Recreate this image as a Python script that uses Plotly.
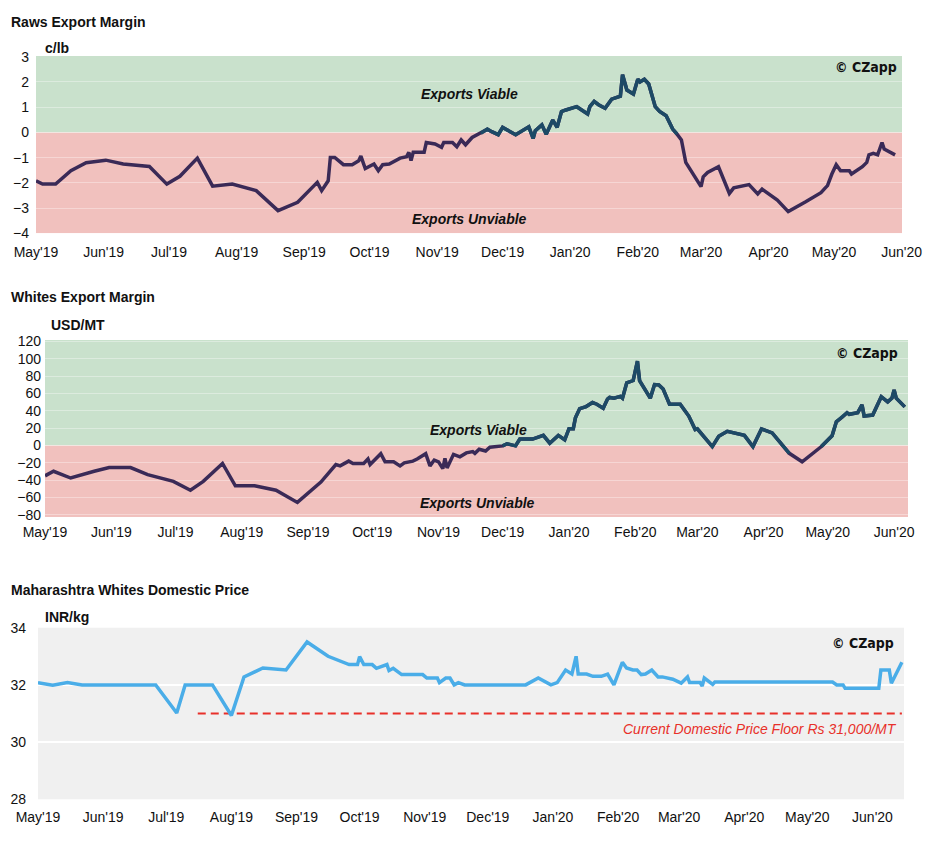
import plotly.graph_objects as go

# ---------------- data ----------------
raws_dates = ["2019-05-01","2019-05-04","2019-05-10","2019-05-17","2019-05-24","2019-06-02","2019-06-10","2019-06-22",
"2019-06-30","2019-07-06","2019-07-14","2019-07-21","2019-07-30","2019-08-10","2019-08-20","2019-08-29","2019-09-07",
"2019-09-09","2019-09-12","2019-09-13","2019-09-15","2019-09-19","2019-09-23","2019-09-26","2019-09-27","2019-09-29",
"2019-10-03","2019-10-05","2019-10-07","2019-10-10","2019-10-15","2019-10-18","2019-10-19","2019-10-20","2019-10-21",
"2019-10-26","2019-10-27","2019-10-31","2019-11-03","2019-11-04","2019-11-08","2019-11-10","2019-11-12","2019-11-14",
"2019-11-17","2019-11-21","2019-11-24","2019-11-26","2019-11-29","2019-12-01","2019-12-07","2019-12-13","2019-12-15",
"2019-12-16","2019-12-19","2019-12-21","2019-12-24","2019-12-26","2019-12-28","2019-12-30","2020-01-04","2020-01-09",
"2020-01-10","2020-01-12","2020-01-14","2020-01-17","2020-01-20","2020-01-24","2020-01-25","2020-01-27","2020-01-30",
"2020-02-01","2020-02-02","2020-02-04","2020-02-06","2020-02-09","2020-02-11","2020-02-14","2020-02-17","2020-02-19",
"2020-02-21","2020-02-23","2020-02-28","2020-03-01","2020-03-02","2020-03-04","2020-03-09","2020-03-14","2020-03-16",
"2020-03-20","2020-03-23","2020-03-27","2020-03-29","2020-04-05","2020-04-10","2020-04-18","2020-04-25","2020-04-27",
"2020-04-28","2020-04-30","2020-05-02","2020-05-04","2020-05-08","2020-05-09","2020-05-14","2020-05-16","2020-05-17",
"2020-05-19","2020-05-21","2020-05-23","2020-05-24","2020-05-29"]
raws_values = [-1.92,-2.05,-2.05,-1.52,-1.20,-1.10,-1.25,-1.35,
-2.05,-1.74,-1.02,-2.13,-2.05,-2.31,-3.10,-2.77,-1.98,
-2.31,-1.92,-0.99,-0.99,-1.28,-1.28,-1.12,-0.94,-1.43,
-1.25,-1.52,-1.28,-1.25,-1.02,-0.96,-0.79,-1.12,-0.79,
-0.79,-0.40,-0.46,-0.59,-0.40,-0.40,-0.57,-0.30,-0.49,
-0.20,-0.03,0.13,0.03,-0.09,0.20,-0.09,0.22,-0.24,
0.07,0.30,-0.07,0.49,0.20,0.83,0.89,1.02,0.73,
1.02,1.23,1.10,0.96,1.32,1.44,2.29,1.68,1.52,
2.11,2.00,2.11,1.92,1.02,0.83,0.66,0.13,-0.07,
-0.30,-1.19,-1.85,-2.15,-1.76,-1.59,-1.36,-2.42,-2.20,
-2.11,-2.07,-2.44,-2.25,-2.68,-3.14,-2.75,-2.39,-2.20,
-2.11,-1.65,-1.28,-1.52,-1.52,-1.65,-1.36,-1.19,-0.89,
-0.83,-0.89,-0.40,-0.66,-0.89]

whites_dates = ["2019-05-01","2019-05-05","2019-05-13","2019-05-17","2019-05-24","2019-05-31","2019-06-10","2019-06-18",
"2019-06-30","2019-07-08","2019-07-14","2019-07-23","2019-07-29","2019-08-07","2019-08-17","2019-08-27","2019-09-07",
"2019-09-14","2019-09-16","2019-09-20","2019-09-22","2019-09-27","2019-09-29","2019-09-30","2019-10-05","2019-10-07",
"2019-10-11","2019-10-14","2019-10-16","2019-10-20","2019-10-22","2019-10-26","2019-10-28","2019-10-30","2019-11-01",
"2019-11-03","2019-11-04","2019-11-05","2019-11-08","2019-11-11","2019-11-14","2019-11-17","2019-11-18","2019-11-20",
"2019-11-23","2019-11-25","2019-12-01","2019-12-03","2019-12-07","2019-12-09","2019-12-15","2019-12-20","2019-12-23",
"2019-12-27","2019-12-30","2020-01-01","2020-01-03","2020-01-04","2020-01-06","2020-01-09","2020-01-12","2020-01-14",
"2020-01-17","2020-01-19","2020-01-20","2020-01-22","2020-01-25","2020-01-26","2020-01-28","2020-01-31","2020-02-02",
"2020-02-03","2020-02-08","2020-02-10","2020-02-12","2020-02-14","2020-02-17","2020-02-22","2020-02-26","2020-02-29",
"2020-03-01","2020-03-08","2020-03-11","2020-03-15","2020-03-23","2020-03-27","2020-03-31","2020-04-05","2020-04-13",
"2020-04-19","2020-04-28","2020-05-03","2020-05-05","2020-05-08","2020-05-10","2020-05-11","2020-05-15","2020-05-17",
"2020-05-18","2020-05-22","2020-05-26","2020-05-29","2020-05-31","2020-06-01","2020-06-02","2020-06-06"]
whites_values = [-35.0,-29.7,-37.5,-34.4,-29.7,-25.4,-25.4,-33.6,
-41.4,-51.6,-41.4,-20.7,-46.5,-46.5,-51.6,-65.7,-42.2,
-21.9,-23.5,-18.0,-20.7,-20.7,-15.6,-21.9,-9.4,-18.8,
-18.8,-23.5,-19.9,-18.0,-15.6,-9.4,-23.5,-16.8,-18.8,
-26.6,-14.9,-25.8,-10.2,-13.0,-8.5,-7.0,-9.0,-4.3,
-6.3,-2.0,-0.4,2.0,-0.4,7.4,7.4,11.7,2.7,
11.7,6.6,19.5,19.5,32.0,42.6,45.0,49.6,47.7,
43.0,53.6,55.5,54.7,56.7,54.7,72.3,75.0,97.3,
75.0,54.7,70.4,70.0,65.3,47.7,47.7,34.0,18.4,
19.2,-1.2,10.6,16.4,11.7,-1.2,19.2,14.5,-9.0,
-18.8,-1.2,11.3,27.4,33.2,37.9,36.0,37.9,46.9,
34.0,35.2,56.3,50.4,54.7,64.1,54.7,44.6]

dom_dates = ["2019-05-01","2019-05-08","2019-05-15","2019-05-22","2019-06-26","2019-07-06","2019-07-10","2019-07-23",
"2019-08-01","2019-08-07","2019-08-16","2019-08-27","2019-09-06","2019-09-16","2019-09-26","2019-09-30","2019-10-01",
"2019-10-03","2019-10-07","2019-10-09","2019-10-14","2019-10-15","2019-10-17","2019-10-21","2019-10-31","2019-11-02",
"2019-11-07","2019-11-08","2019-11-11","2019-11-13","2019-11-15","2019-11-17","2019-11-20","2019-12-19","2019-12-25",
"2019-12-31","2020-01-03","2020-01-07","2020-01-10","2020-01-12","2020-01-13","2020-01-17","2020-01-20","2020-01-24",
"2020-01-27","2020-01-30","2020-02-03","2020-02-05","2020-02-08","2020-02-10","2020-02-12","2020-02-14","2020-02-17",
"2020-02-20","2020-02-22","2020-02-27","2020-03-02","2020-03-05","2020-03-06","2020-03-11","2020-03-12","2020-03-13",
"2020-03-17","2020-03-18","2020-05-13","2020-05-15","2020-05-18","2020-05-19","2020-06-04","2020-06-05","2020-06-09",
"2020-06-10","2020-06-15"]
dom_values = [32.08,31.99,32.08,32.00,32.00,31.02,32.00,32.00,
30.93,32.28,32.59,32.52,33.50,33.00,32.71,32.71,32.99,
32.71,32.71,32.58,32.71,32.50,32.58,32.36,32.36,32.24,
32.24,32.08,32.24,32.24,32.00,32.08,32.00,32.00,32.24,
32.00,32.08,32.52,32.38,33.00,32.38,32.38,32.30,32.30,
32.38,32.00,32.79,32.59,32.52,32.52,32.36,32.38,32.52,
32.28,32.28,32.20,32.06,32.28,32.08,32.08,31.96,32.24,
32.02,32.10,32.10,32.00,32.00,31.88,31.88,32.52,32.52,
32.06,32.79]

floor_dates = ["2019-07-16", "2020-06-15"]
floor_values = [31.0, 31.0]

# ---------------- styling ----------------
W, H = 940, 844
FONT = "Liberation Sans, Arial, Helvetica, sans-serif"
NARROW = "Liberation Sans Narrow, DejaVu Sans Condensed, Liberation Sans, Arial, sans-serif"
PURPLE = "#3a2a57"
TEAL = "#1d4a66"
BLUE = "#4aade8"
GREEN_BAND = "#c9e1cc"
RED_BAND = "#f1c1be"
GREY_BG = "#f0f0f0"
RED = "#e8302a"


def px_x(p):
    return p / W


def px_y(p):
    return 1 - p / H


def pos_mask(vals):
    out = []
    n = len(vals)
    for i, v in enumerate(vals):
        keep = v >= 0 or (i > 0 and vals[i - 1] >= 0) or (i < n - 1 and vals[i + 1] >= 0)
        out.append(v if keep else None)
    return out


fig = go.Figure()

# Raws
fig.add_trace(go.Scatter(x=raws_dates, y=raws_values, mode="lines", xaxis="x", yaxis="y",
                         line=dict(color=PURPLE, width=3.5), hoverinfo="skip", showlegend=False))
fig.add_trace(go.Scatter(x=raws_dates, y=pos_mask(raws_values), mode="lines", xaxis="x", yaxis="y",
                         line=dict(color=TEAL, width=3.5), connectgaps=False, hoverinfo="skip", showlegend=False))
# Whites
fig.add_trace(go.Scatter(x=whites_dates, y=whites_values, mode="lines", xaxis="x2", yaxis="y2",
                         line=dict(color=PURPLE, width=3.5), hoverinfo="skip", showlegend=False))
fig.add_trace(go.Scatter(x=whites_dates, y=pos_mask(whites_values), mode="lines", xaxis="x2", yaxis="y2",
                         line=dict(color=TEAL, width=3.5), connectgaps=False, hoverinfo="skip", showlegend=False))
# Domestic
fig.add_trace(go.Scatter(x=floor_dates, y=floor_values, mode="lines", xaxis="x3", yaxis="y3",
                         line=dict(color=RED, width=2, dash="8px,5px"), hoverinfo="skip", showlegend=False))
fig.add_trace(go.Scatter(x=dom_dates, y=dom_values, mode="lines", xaxis="x3", yaxis="y3",
                         line=dict(color=BLUE, width=3.5), hoverinfo="skip", showlegend=False))

tickfont = dict(family=FONT, size=14, color="#111")

def xaxis(domain, anchor, rng, standoff):
    return dict(domain=domain, anchor=anchor, type="date", range=rng,
                tickformat="%b'%y", dtick="M1", tick0="2019-05-01",
                showgrid=False, zeroline=False, showline=False, ticks="",
                tickfont=tickfont, ticklabelstandoff=standoff, fixedrange=True, automargin=False)

def yaxis(domain, anchor, rng, dtick, standoff, gridcolor, gridwidth=1):
    return dict(domain=domain, anchor=anchor, range=rng, dtick=dtick,
                showgrid=True, gridcolor=gridcolor, gridwidth=gridwidth,
                zeroline=False, showline=False, ticks="",
                tickfont=tickfont, ticklabelstandoff=standoff, fixedrange=True, automargin=False)

d1y = [px_y(233.3), px_y(56)]
d2y = [px_y(517), px_y(340)]
d3y = [px_y(799.3), px_y(627.7)]

fig.update_layout(
    width=W, height=H,
    margin=dict(l=0, r=0, t=0, b=0, autoexpand=False),
    paper_bgcolor="white", plot_bgcolor="rgba(0,0,0,0)",
    font=dict(family=FONT, color="#111"),
    xaxis=xaxis([px_x(36), px_x(902)], "y", ["2019-05-01", "2020-06-01 04:00"], 9),
    yaxis=yaxis(d1y, "x", [-4.0, 3.03], 1, 6, "rgba(255,255,255,0.35)"),
    xaxis2=xaxis([px_x(45), px_x(908)], "y2", ["2019-05-01", "2020-06-07 12:00"], 5),
    yaxis2=yaxis(d2y, "x2", [-82.5, 121.8], 20, 3, "rgba(255,255,255,0.35)"),
    xaxis3=xaxis([px_x(38), px_x(904)], "y3", ["2019-05-01", "2020-06-16"], 8),
    yaxis3=yaxis(d3y, "x3", [28, 34], 2, 11, "white", 2),
)

shapes = [
    dict(type="rect", xref="x domain", yref="y", x0=0, x1=1, y0=0, y1=3.03, fillcolor=GREEN_BAND, line_width=0, layer="below"),
    dict(type="rect", xref="x domain", yref="y", x0=0, x1=1, y0=-4.0, y1=0, fillcolor=RED_BAND, line_width=0, layer="below"),
    dict(type="rect", xref="x2 domain", yref="y2", x0=0, x1=1, y0=0, y1=121.8, fillcolor=GREEN_BAND, line_width=0, layer="below"),
    dict(type="rect", xref="x2 domain", yref="y2", x0=0, x1=1, y0=-82.5, y1=0, fillcolor=RED_BAND, line_width=0, layer="below"),
    dict(type="rect", xref="x3 domain", yref="y3 domain", x0=0, x1=1, y0=0, y1=1, fillcolor=GREY_BG, line_width=0, layer="below"),
]
fig.update_layout(shapes=shapes)

ann = []

def text(s, x, y, anchor="left", size=14, bold=True, italic=False, color="#111", family=FONT):
    t = s
    if bold:
        t = "<b>" + t + "</b>"
    if italic:
        t = "<i>" + t + "</i>"
    ann.append(dict(text=t, x=px_x(x), y=px_y(y), xref="paper", yref="paper",
                    xanchor=anchor, yanchor="middle", showarrow=False,
                    font=dict(family=family, size=size, color=color)))

text("Raws Export Margin", 9, 22)
text("c/lb", 43, 48)
text("Whites Export Margin", 9, 297)
text("USD/MT", 49, 325)
text("Maharashtra Whites Domestic Price", 9, 590)
text("INR/kg", 43, 617)

text("© CZapp", 899, 67, anchor="right", size=14, family=NARROW)
text("© CZapp", 900, 353, anchor="right", size=14, family=NARROW)
text("© CZapp", 896, 643, anchor="right", size=14, family=NARROW)

text("Exports Viable", 469, 94, anchor="center", italic=True)
text("Exports Unviable", 469, 219, anchor="center", italic=True)
text("Exports Viable", 478, 430, anchor="center", italic=True)
text("Exports Unviable", 477, 503, anchor="center", italic=True)

text("Current Domestic Price Floor Rs 31,000/MT", 899, 729, anchor="right", size=14, bold=False, italic=True, color=RED)

fig.update_layout(annotations=ann)

fig.write_html("out.html", config={"displayModeBar": False},
               post_script="document.body.style.margin='0';")
